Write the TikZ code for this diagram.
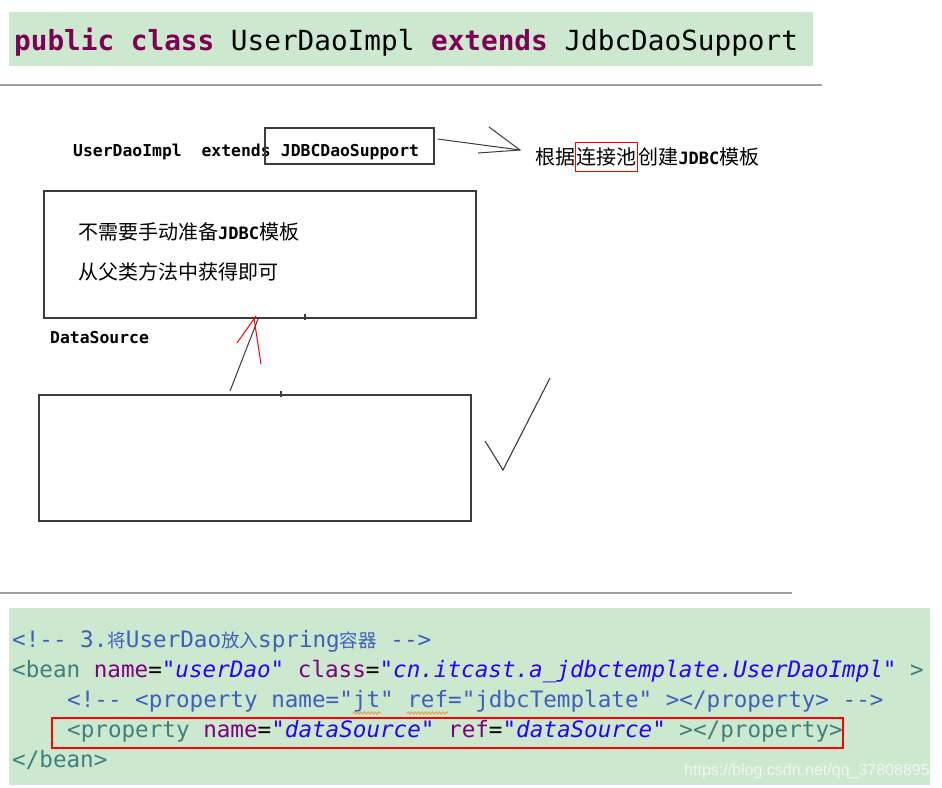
\documentclass[tikz,border=0pt]{standalone}
\usepackage{fontspec}
\setmonofont{DejaVu Sans Mono}
\newfontfamily\zhfont{Noto Sans CJK SC}
\newfontfamily\wmfont{Liberation Sans}
\usetikzlibrary{positioning,decorations.pathmorphing}
\definecolor{codebg}{RGB}{204,232,207}
\definecolor{kwc}{RGB}{127,0,85}
\definecolor{tagc}{RGB}{63,127,127}
\definecolor{attrc}{RGB}{127,0,127}
\definecolor{strc}{RGB}{42,0,255}
\definecolor{cmtc}{RGB}{63,95,191}
\definecolor{linec}{RGB}{60,60,60}
\definecolor{sepc}{RGB}{160,160,160}
\definecolor{squig}{RGB}{230,150,60}
\definecolor{wmc}{RGB}{242,246,242}
\newcommand\topcode{\ttfamily\fontsize{27.7}{30}\selectfont}
\newcommand\xmlcode{\ttfamily\fontsize{22.6}{30}\selectfont}
\newcommand\pixb{\ttfamily\bfseries\fontsize{16.4}{18}\selectfont}
\newcommand\pixj{\ttfamily\bfseries\fontsize{17}{18}\selectfont}
\newcommand\zhm{\zhfont\fontsize{20}{24}\selectfont}
\newcommand\zhc{\zhfont\fontsize{18.5}{24}\selectfont}
\newcommand\kwd[1]{\textcolor{kwc}{\bfseries #1}}
\newcommand\tgx[1]{\textcolor{tagc}{#1}}
\newcommand\atx[1]{\textcolor{attrc}{#1}}
\newcommand\stx[1]{\textcolor{strc}{\itshape #1}}
\tikzset{
  box/.style={draw=linec, line width=1.2pt, inner sep=0pt},
  pix/.style={font=\pixb, inner sep=0pt, text=black},
  pen/.style={draw=linec, line width=1pt},
  redpen/.style={draw=red, line width=1pt},
  code/.style={anchor=base west, inner sep=0pt, font=\xmlcode},
  band/.style={fill=codebg},
  sep/.style={draw=sepc, line width=1.5pt},
  wavy/.style={draw=squig, line width=0.8pt, decorate, decoration={snake, amplitude=1.2pt, segment length=3.5pt}}
}
\begin{document}
\begin{tikzpicture}[x=1pt, y=-1pt]
\useasboundingbox (0,0) rectangle (942,787);
\fill[white] (0,0) rectangle (942,787);
% top code band
\fill[band] (9,12) rectangle (813,66);
\node[anchor=base west, inner sep=0pt, font=\topcode] (decl) at (14,50)
  {\kwd{public} \kwd{class} UserDaoImpl \kwd{extends} JdbcDaoSupport};
\draw[sep] (0,85) -- (822,85);
% sketch
\node[pix, anchor=base west] (ext) at (73,156.5) {UserDaoImpl\ \ extends};
\node[box, minimum width=169pt, minimum height=36pt] (jds) at (349.5,146) {};
\node[pix, anchor=base] (jdsl) at (350,156.5) {JDBCDaoSupport};
\coordinate (tip) at (520,150);
\coordinate (h1) at (489,127);
\coordinate (h2) at (478,153);
\draw[pen] ([xshift=3pt,yshift=7pt]jds.east) -- (tip);
\draw[pen] (h1) -- (tip) -- (h2);
\node[anchor=west, inner sep=0pt] (g1) at (535,157) {\zhm 根据};
\node[right=0pt of g1, draw=red, line width=0.9pt, inner xsep=1pt, inner ysep=5pt] (g2) {\zhm 连接池};
\node[right=0pt of g2, inner sep=0pt] (g3) {\zhm 创建{\pixj JDBC}模板};
\node[box, minimum width=432pt, minimum height=127pt] (b1) at (260,254.5) {};
\node[anchor=west, inner sep=0pt] (t1) at (78,232) {\zhm 不需要手动准备{\pixj JDBC}模板};
\node[anchor=west, inner sep=0pt] (t2) at (78,272) {\zhm 从父类方法中获得即可};
\node[pix, anchor=base west] (ds) at (50,343) {DataSource};
\node[box, minimum width=432pt, minimum height=126pt] (b2) at (255,458) {};
\coordinate (k1a) at (305,314); \coordinate (k1b) at (305,320);
\coordinate (k2a) at (281,391); \coordinate (k2b) at (281,397);
\draw[draw=linec, line width=1.6pt] (k1a) -- (k1b);
\draw[draw=linec, line width=1.6pt] (k2a) -- (k2b);
\coordinate (ls) at (230,391);
\coordinate (le) at (258,319);
\draw[pen] (ls) -- (le);
\coordinate (r0) at (256,316);
\coordinate (r1) at (237,343);
\coordinate (r2) at (254,318);
\coordinate (r3) at (261,364);
\draw[redpen] (r1) -- (r0);
\draw[redpen] (r2) -- (r3);
\coordinate (ck1) at (485,441);
\coordinate (ck2) at (503,470);
\coordinate (ck3) at (550,378);
\draw[pen, line width=1.1pt] (ck1) -- (ck2) -- (ck3);
\draw[sep] (0,593) -- (792,593);
% bottom code band
\fill[band] (9,608) rectangle (930,785);
\node[code] (l1) at (12,647) {\textcolor{cmtc}{<!-{}- 3.{\zhc 将}UserDao{\zhc 放入}spring{\zhc 容器} -{}->}};
\node[code] (l2) at (12,677) {\tgx{<bean} \atx{name}=\stx{"userDao"} \atx{class}=\stx{"cn.itcast.a\_jdbctemplate.UserDaoImpl"} \tgx{>}};
\node[code] (l3) at (67,707) {\textcolor{cmtc}{<!-{}- <property name="jt" ref="jdbcTemplate" ></property> -{}->}};
\draw[wavy] (353,713) -- (381,713);
\draw[wavy] (407,713) -- (448,713);
\node[code] (l4) at (67,737) {\tgx{<property} \atx{name}=\stx{"dataSource"} \atx{ref}=\stx{"dataSource"} \tgx{></property>}};
\draw[draw=red, line width=1.2pt] (52,718) rectangle (843,748);
\node[code] (l5) at (12,767) {\tgx{</bean>}};
\node[anchor=base west, inner sep=0pt, text=wmc, font=\wmfont\fontsize{16}{18}\selectfont] (wm) at (684,775) {https://blog.csdn.net/qq\_37808895};
\end{tikzpicture}
\end{document}
